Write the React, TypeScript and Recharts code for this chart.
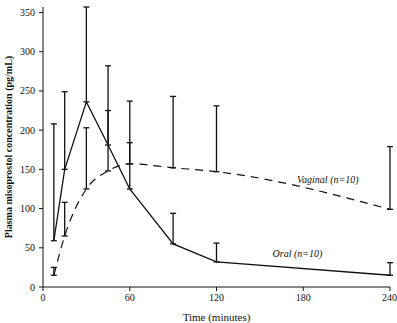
import { LineChart, Line, XAxis, YAxis, ErrorBar, ReferenceDot } from "recharts"

// sampling times (minutes)
const times = [7.5, 15, 30, 45, 60, 90, 120, 240]

// mean plasma concentrations (pg/mL)
const oralMean = [59, 150, 236, 181, 125, 55, 32, 15]
const vaginalMean = [15, 65, 125, 148, 157, 152, 147, 99]

// upper end of the error bars
const oralTop = [208, 249, 357, 225, 184, 94, 56, 31]
const vaginalTop = [25, 108, 203, 282, 237, 243, 231, 179]

const xTicks = [0, 60, 120, 180, 240]
const yTicks = [0, 50, 100, 150, 200, 250, 300, 350]

const data = times.map((t, i) => ({
  t,
  oral: oralMean[i],
  vaginal: vaginalMean[i],
  oralErr: [0, oralTop[i] - oralMean[i]],
  vaginalErr: [0, vaginalTop[i] - vaginalMean[i]],
}))

const font = "'Liberation Serif', 'DejaVu Serif', serif"
const ink = "#111"

export default function App() {
  return (
    <div style={{ position: "absolute", left: 0, top: 0, background: "#fff" }}>
      <LineChart width={397} height={323} data={data} margin={{ top: 7, right: 7, left: 0, bottom: 0 }}>
        <XAxis
          dataKey="t"
          type="number"
          domain={[0, 240]}
          ticks={xTicks}
          height={36}
          tickSize={4}
          tickMargin={3}
          stroke={ink}
          tick={{ fill: ink, fontSize: 10, fontFamily: font }}
          label={{ value: "Time (minutes)", position: "insideBottom", offset: 2, fill: ink, fontSize: 11, fontFamily: font }}
        />
        <YAxis
          type="number"
          domain={[0, 350]}
          ticks={yTicks}
          width={43}
          tickSize={4}
          tickMargin={4}
          stroke={ink}
          tick={{ fill: ink, fontSize: 10, fontFamily: font }}
          label={{
            value: "Plasma misoprostol concentration (pg/mL)",
            angle: -90,
            position: "center",
            dx: -13,
            fill: ink,
            fontSize: 10,
            fontFamily: font,
            fontWeight: "bold",
          }}
        />
        <Line
          dataKey="oral"
          type="linear"
          stroke={ink}
          strokeWidth={1.3}
          dot={false}
          activeDot={false}
          isAnimationActive={false}
        >
          <ErrorBar dataKey="oralErr" direction="y" width={3} stroke={ink} strokeWidth={1.3} />
        </Line>
        <Line
          dataKey="vaginal"
          type="monotone"
          stroke={ink}
          strokeWidth={1.2}
          strokeDasharray="8 6"
          dot={false}
          activeDot={false}
          isAnimationActive={false}
        >
          <ErrorBar dataKey="vaginalErr" direction="y" width={3} stroke={ink} strokeWidth={1.3} />
        </Line>
        <ReferenceDot
          x={197}
          y={137}
          r={0.01}
          fill="none"
          stroke="none"
          label={{ value: "Vaginal (n=10)", position: "center", fill: ink, fontSize: 10, fontFamily: font, fontStyle: "italic" }}
        />
        <ReferenceDot
          x={176}
          y={43}
          r={0.01}
          fill="none"
          stroke="none"
          label={{ value: "Oral (n=10)", position: "center", fill: ink, fontSize: 10, fontFamily: font, fontStyle: "italic" }}
        />
      </LineChart>
    </div>
  )
}
